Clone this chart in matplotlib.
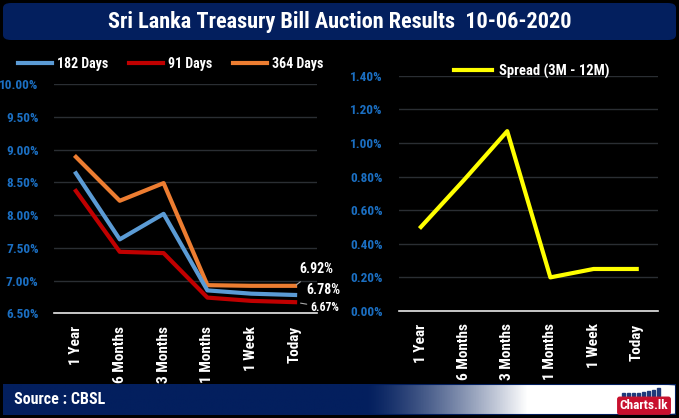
import matplotlib
matplotlib.use("Agg")
import matplotlib.pyplot as plt
from matplotlib import font_manager
from matplotlib.patches import FancyBboxPatch, Rectangle
from matplotlib.ticker import FuncFormatter
import numpy as np

# data
tenors = ["1 Year", "6 Months", "3 Months", "1 Months", "1 Week", "Today"]
days_182 = [8.64, 7.63, 8.02, 6.85, 6.80, 6.78]
days_91 = [8.37, 7.44, 7.42, 6.74, 6.69, 6.67]
days_364 = [8.89, 8.22, 8.49, 6.93, 6.92, 6.92]
spread = [0.50, 0.78, 1.07, 0.20, 0.25, 0.25]

title = "Sri Lanka Treasury Bill Auction Results  10-06-2020"
source = "Source : CBSL"

NAVY = "#031f5e"
TICK_BLUE = "#1b6fc2"
GRID = "#2a2e33"

# pick a narrow bold face if one is installed
installed = {f.name for f in font_manager.fontManager.ttflist}
narrow = [n for n in ["Roboto Condensed", "Liberation Sans Narrow", "Open Sans Condensed"] if n in installed]
if narrow:
    FONT = [narrow[0], "DejaVu Sans"]
    k = 1.0
else:
    FONT = ["DejaVu Sans"]
    plt.rcParams["font.stretch"] = "condensed"
    k = 0.82

plt.rcParams["font.family"] = FONT
plt.rcParams["font.weight"] = "bold"

W, H = 679, 418
fig = plt.figure(figsize=(W / 100, H / 100), dpi=100, facecolor="black")


def px(x, y):
    # pixel coords (top-left origin) -> figure fraction
    return x / W, 1 - y / H


def style_axes(ax, ylim, yticks, fmt, ypad):
    ax.set_facecolor("black")
    ax.set_ylim(*ylim)
    ax.set_xlim(-0.5, len(tenors) - 0.5)
    ax.set_yticks(yticks)
    ax.yaxis.set_major_formatter(FuncFormatter(fmt))
    ax.set_xticks(range(len(tenors)))
    ax.set_xticklabels(tenors, rotation=90, va="top")
    for s in ["top", "right", "left"]:
        ax.spines[s].set_visible(False)
    ax.spines["bottom"].set_color("#e8e8e8")
    ax.spines["bottom"].set_linewidth(1.2)
    ax.grid(axis="y", color=GRID, linewidth=1)
    ax.set_axisbelow(True)
    ax.tick_params(axis="y", length=0, pad=ypad, colors=TICK_BLUE, labelsize=9.5 * k)
    ax.tick_params(axis="x", length=0, pad=9, colors="white", labelsize=11 * k)


# left panel: yields
ax1 = fig.add_axes([54 / W, 1 - 313.3 / H, 263 / W, 229 / H])
style_axes(ax1, (6.5, 10.0), np.arange(6.5, 10.01, 0.5), lambda v, p: f"{v:.2f}%", 11)
x = np.arange(len(tenors))
ax1.plot(x, days_182, color="#5b9bd5", lw=3, label="182 Days", zorder=3)
ax1.plot(x, days_91, color="#c00000", lw=3, label="91 Days", zorder=3)
ax1.plot(x, days_364, color="#ed7d31", lw=3, label="364 Days", zorder=2)
ax1.legend(loc="center", bbox_to_anchor=px(171, 64), bbox_transform=fig.transFigure,
           ncol=3, frameon=False, labelcolor="white", fontsize=10 * k,
           handlelength=2.4, columnspacing=1.5, handletextpad=0.4)

# end labels
ax1.annotate(f"{days_364[-1]:.2f}%", xy=(x[-1], days_364[-1]), xytext=(x[-1] + 0.1, days_364[-1] + 0.25),
             color="white", fontsize=10 * k, ha="left", va="center", annotation_clip=False,
             arrowprops=dict(arrowstyle="-", color="#aaaaaa", lw=0.8, shrinkA=3, shrinkB=1))
ax1.annotate(f"{days_182[-1]:.2f}%", xy=(x[-1], days_182[-1]), xytext=(x[-1] + 0.26, days_182[-1] + 0.08),
             color="white", fontsize=10 * k, ha="left", va="center", annotation_clip=False)
ax1.annotate(f"{days_91[-1]:.2f}%", xy=(x[-1], days_91[-1]), xytext=(x[-1] + 0.36, days_91[-1] - 0.08),
             color="white", fontsize=8.5 * k, ha="left", va="center", annotation_clip=False,
             arrowprops=dict(arrowstyle="-", color="#aaaaaa", lw=0.8, shrinkA=1, shrinkB=4))

# right panel: spread
ax2 = fig.add_axes([399.3 / W, 1 - 311 / H, 259 / W, 235.3 / H])
style_axes(ax2, (0, 1.4), np.arange(0, 1.41, 0.2), lambda v, p: f"{v:.2f}%", 12)
ax2.plot(x, spread, color="#ffff00", lw=3, label="Spread (3M - 12M)")
ax2.legend(loc="center", bbox_to_anchor=px(532, 71), bbox_transform=fig.transFigure,
           frameon=False, labelcolor="white", fontsize=10.5 * k,
           handlelength=2.6, handletextpad=0.5)

# title bar
fig.patches.append(FancyBboxPatch(px(3, 40), 673 / W, 37 / H, boxstyle="round,pad=0,rounding_size=0.012",
                                  transform=fig.transFigure, facecolor=NAVY, edgecolor="none", zorder=5))
fig.text(*px(340, 22), title, color="white", fontsize=16 * k, ha="center", va="center", zorder=6)

# footer bar with gradient to white on the right
fx0, fy0, fw, fh = 3, 384, 673, 31
grad = np.ones((1, 256, 3))
nav = np.array([3, 31, 94]) / 255
t = np.linspace(0, 1, 256)
fade = np.clip((t - 0.54) / 0.24, 0, 1)[:, None] ** 1.3
grad[0] = nav * (1 - fade) + np.ones(3) * fade
fax = fig.add_axes([fx0 / W, 1 - (fy0 + fh) / H, fw / W, fh / H], zorder=10)
im = fax.imshow(grad, aspect="auto", extent=(0, 1, 0, 1))
clip = FancyBboxPatch((0, 0), 1, 1, boxstyle="round,pad=0,rounding_size=0.02",
                      transform=fax.transAxes, facecolor="none", edgecolor=NAVY, lw=1.5)
fax.add_patch(clip)
im.set_clip_path(clip)
fax.axis("off")
fax.text(11 / fw, 0.5, source, color="white", fontsize=11.5 * k, ha="left", va="center")

# charts.lk logo
fax.text(641 / fw, 0.3, "Charts.lk", color="white", fontsize=9.5 * k, ha="center", va="center",
         bbox=dict(boxstyle="round,pad=0.15", facecolor="#c8102e", edgecolor="#c8102e"))
bar_h = [0.08, 0.08, 0.08, 0.08, 0.12, 0.16, 0.2, 0.25]
for i, h in enumerate(bar_h):
    fax.add_patch(Rectangle(((619 + i * 5) / fw, 0.62), 3 / fw, h, color="#1f3a7a",
                            transform=fax.transAxes))

fig.savefig("out.png", dpi=100, facecolor="black")
